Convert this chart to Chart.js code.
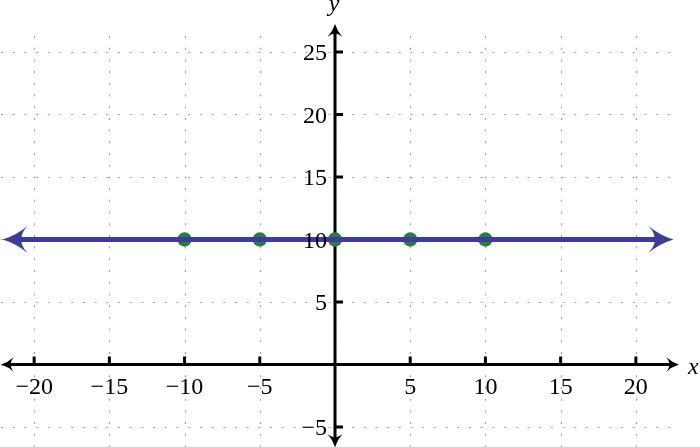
<!doctype html>
<html lang="en">
<head>
    <meta charset="utf-8">
    <title>y = 10</title>
    <style>
        body { margin: 0; background: #fff; }
    </style>
</head>
<body>
    <canvas id="chart" width="700" height="447"></canvas>

    <script src="https://cdn.jsdelivr.net/npm/chart.js@4/dist/chart.umd.min.js"></script>
    <script>
        // values
        const xTicks = [-20, -15, -10, -5, 0, 5, 10, 15, 20];
        const yTicks = [-5, 0, 5, 10, 15, 20, 25];
        const lineX = [-22.1, 22.5];
        const lineY = [10, 10];
        const pointX = [-10, -5, 0, 5, 10];
        const pointY = [10, 10, 10, 10, 10];

        const BLUE = "#3d3d98";
        const GREEN = "#2b7d3d";
        const FONT = '"Liberation Serif", "Times New Roman", serif';
        const minus = v => v < 0 ? "\u2212" + Math.abs(v) : String(v);

        // curved arrow head pointing along (dx, dy)
        const arrowHead = (ctx, tx, ty, dx, dy, len, half) => {
            const px = -dy, py = dx;
            const at = (a, b) => [tx - dx * a + px * b, ty - dy * a + py * b];
            ctx.beginPath();
            ctx.moveTo(tx, ty);
            ctx.quadraticCurveTo(...at(len * 0.55, half * 0.3), ...at(len, half));
            ctx.quadraticCurveTo(...at(len * 0.72, half * 0.45), ...at(len * 0.76, 0));
            ctx.quadraticCurveTo(...at(len * 0.72, -half * 0.45), ...at(len, -half));
            ctx.quadraticCurveTo(...at(len * 0.55, -half * 0.3), tx, ty);
            ctx.closePath();
            ctx.fill();
        };

        const axesPlugin = {
            id: "axes",
            beforeDatasetsDraw(chart) {
                const { ctx, chartArea: a, scales: { x, y } } = chart;
                ctx.save();
                // dotted grid
                ctx.strokeStyle = "#a0a0a0";
                ctx.lineWidth = 1.2;
                ctx.setLineDash([2, 9.7]);
                xTicks.forEach(v => {
                    const px = Math.round(x.getPixelForValue(v)) + 0.5;
                    ctx.beginPath();
                    ctx.moveTo(px, a.top + 1);
                    ctx.lineTo(px, a.bottom);
                    ctx.stroke();
                });
                yTicks.forEach(v => {
                    const py = Math.round(y.getPixelForValue(v)) + 0.5;
                    ctx.beginPath();
                    ctx.moveTo(a.left + 1, py);
                    ctx.lineTo(a.right, py);
                    ctx.stroke();
                });
                ctx.setLineDash([]);

                // axes
                const x0 = x.getPixelForValue(0);
                const y0 = y.getPixelForValue(0);
                ctx.strokeStyle = "#000";
                ctx.fillStyle = "#000";
                ctx.lineWidth = 3;
                ctx.beginPath();
                ctx.moveTo(a.left + 6, y0);
                ctx.lineTo(a.right + 4, y0);
                ctx.moveTo(x0, a.top - 6);
                ctx.lineTo(x0, a.bottom - 6);
                ctx.stroke();
                arrowHead(ctx, a.left + 1, y0, -1, 0, 13, 7.5);
                arrowHead(ctx, a.right + 9, y0, 1, 0, 13, 7.5);
                arrowHead(ctx, x0, a.top - 11, 0, -1, 13, 7.5);
                arrowHead(ctx, x0, a.bottom, 0, 1, 13, 7.5);

                // tick marks
                xTicks.filter(v => v !== 0).forEach(v => {
                    const px = x.getPixelForValue(v);
                    ctx.beginPath();
                    ctx.moveTo(px, y0 - 8);
                    ctx.lineTo(px, y0);
                    ctx.stroke();
                });
                yTicks.filter(v => v !== 0).forEach(v => {
                    const py = y.getPixelForValue(v);
                    ctx.beginPath();
                    ctx.moveTo(x0, py);
                    ctx.lineTo(x0 + 8, py);
                    ctx.stroke();
                });
                ctx.restore();
            },
            beforeDatasetDraw(chart, args) {
                if (args.index !== 0) return;
                const { ctx, scales: { x } } = chart;
                const l = x.getPixelForValue(lineX[0]) + 8;
                const r = x.getPixelForValue(lineX[1]) - 8;
                ctx.save();
                ctx.beginPath();
                ctx.rect(l, 0, r - l, chart.height);
                ctx.clip();
            },
            afterDatasetDraw(chart, args) {
                if (args.index !== 0) return;
                const { ctx, scales: { x, y } } = chart;
                ctx.restore();
                ctx.save();
                ctx.fillStyle = BLUE;
                arrowHead(ctx, x.getPixelForValue(lineX[0]), y.getPixelForValue(lineY[0]), -1, 0, 25, 13.5);
                arrowHead(ctx, x.getPixelForValue(lineX[1]), y.getPixelForValue(lineY[1]), 1, 0, 25, 13.5);
                ctx.restore();
            },
            afterDatasetsDraw(chart) {
                const { ctx, chartArea: a, scales: { x, y } } = chart;
                const x0 = x.getPixelForValue(0);
                const y0 = y.getPixelForValue(0);
                ctx.save();
                ctx.fillStyle = "#000";
                ctx.font = "24px " + FONT;
                ctx.textBaseline = "alphabetic";
                ctx.textAlign = "center";
                xTicks.filter(v => v !== 0).forEach(v => {
                    ctx.fillText(minus(v), x.getPixelForValue(v), y0 + 29);
                });
                ctx.textAlign = "right";
                yTicks.filter(v => v !== 0).forEach(v => {
                    ctx.fillText(minus(v), x0 - 8, y.getPixelForValue(v) + 8);
                });
                ctx.font = "italic 24px " + FONT;
                ctx.textAlign = "center";
                ctx.fillText("y", x0 - 1, a.top - 24);
                ctx.textAlign = "left";
                ctx.fillText("x", a.right + 18, y0 + 9);
                ctx.restore();
            }
        };

        const config = {
            type: "scatter",
            data: {
                datasets: [{
                    type: "line",
                    data: lineX.map((v, i) => ({ x: v, y: lineY[i] })),
                    borderColor: BLUE,
                    borderWidth: 5,
                    pointRadius: 0,
                    clip: false
                },
                {
                    data: pointX.map((v, i) => ({ x: v, y: pointY[i] })),
                    backgroundColor: GREEN,
                    borderColor: GREEN,
                    borderWidth: 0,
                    pointRadius: 7.2,
                    clip: false
                }]
            },
            options: {
                responsive: false,
                animation: false,
                layout: {
                    autoPadding: false,
                    padding: { left: 0, right: 30, top: 35, bottom: 0 }
                },
                scales: {
                    x: { type: "linear", min: -22.27, max: 22.27, display: false },
                    y: { type: "linear", min: -6.6, max: 26.36, display: false }
                },
                plugins: {
                    legend: { display: false },
                    tooltip: { enabled: false }
                }
            },
            plugins: [axesPlugin]
        };
        const chart = new Chart("chart", config);
    </script>
</body>
</html>
